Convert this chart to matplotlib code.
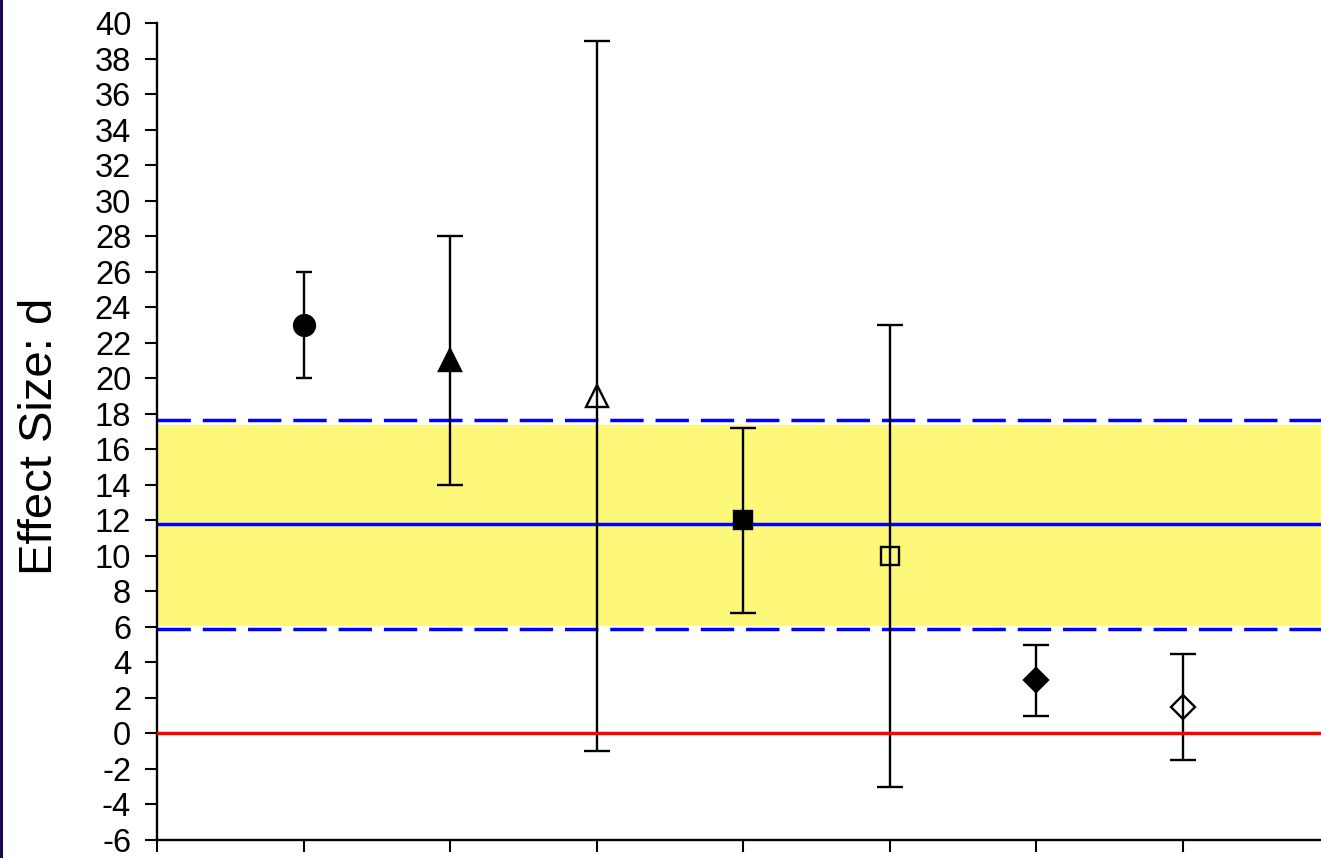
"""Effect size forest-style chart with pooled estimate band."""

import matplotlib
matplotlib.use('Agg')
import matplotlib.pyplot as plt
from matplotlib.lines import Line2D

# study estimates (d) and their interval limits
studies = [1, 2, 3, 4, 5, 6, 7]
effect = [23.0, 21.0, 19.0, 12.0, 10.0, 3.0, 1.5]
lower = [20.0, 14.0, -1.0, 6.8, -3.0, 1.0, -1.5]
upper = [26.0, 28.0, 39.0, 17.2, 23.0, 5.0, 4.5]

# pooled estimate and its interval
pooled_mean = 11.77
pooled_low = 5.87
pooled_high = 17.66
band_low = 6.05
band_high = 17.37

y_ticks = list(range(-6, 41, 2))

# marker styles per study
markers = ['o', '^', '^', 's', 's', 'D', 'D']
filled = [True, True, False, True, False, True, False]
sizes = [15, 16, 16, 13.5, 13, 12.5, 12.5]
caps = [6, 9.3, 9.3, 9.3, 9.3, 9.3, 9.3]

plt.rcParams['font.family'] = ['Liberation Sans', 'DejaVu Sans']
plt.rcParams['axes.unicode_minus'] = False
plt.rcParams['lines.scale_dashes'] = False

fig = plt.figure(figsize=(13.21, 8.58), dpi=100)
ax = fig.add_axes([157 / 1321, 18 / 858, 1 - 157 / 1321, 817 / 858])

ax.axhspan(band_low, band_high, color='#fdf879', lw=0, zorder=1)
ax.axhline(pooled_mean, color='#0000ff', lw=2.5, zorder=2)
for v in (pooled_low, pooled_high):
    ax.axhline(v, color='#0000ff', lw=2.5, dashes=(24, 8.6), zorder=2)

for x, m, lo, hi, mk, f, s, c in zip(studies, effect, lower, upper,
                                       markers, filled, sizes, caps):
    ax.errorbar([x], [m], yerr=[[m - lo], [hi - m]], fmt='none',
                ecolor='black', elinewidth=1.7, capsize=c, capthick=1.7,
                zorder=3)
    ax.plot([x], [m], marker=mk, ms=s, color='black',
            mfc='black' if f else 'none', mec='black', mew=1.7,
            ls='none', zorder=4)

ax.axhline(0, color='#ff0000', lw=2.5, zorder=5)

ax.set_xlim(0, 1164 / 146.57)
ax.set_ylim(-6, 40)
ax.set_yticks(y_ticks)
ax.set_xticks(range(0, 8))
ax.set_xticklabels([])
ax.tick_params(axis='y', direction='out', length=8.6, width=1.5,
               labelsize=23.5, pad=10)
ax.tick_params(axis='x', direction='out', length=8.6, width=1.5)
for side in ('top', 'right'):
    ax.spines[side].set_visible(False)
for side in ('left', 'bottom'):
    ax.spines[side].set_linewidth(1.7)

fig.text(40 / 1321, 1 - 436 / 858, 'Effect Size: d', rotation=90,
         fontsize=34, ha='center', va='center')

# thin frame edge at the left of the picture
fig.add_artist(Line2D([0.001, 0.001], [0, 1], color='#1c0a50', lw=2.2,
                      transform=fig.transFigure))

fig.savefig('out.png', dpi=100, facecolor='white')
